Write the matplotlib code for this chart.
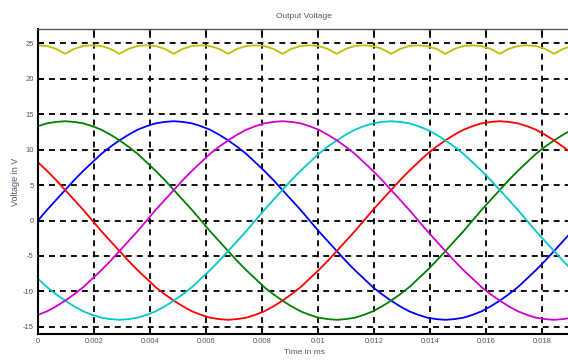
import numpy as np
import matplotlib
matplotlib.use("Agg")
import matplotlib.pyplot as plt

plt.rcParams['font.family'] = ['Liberation Sans', 'DejaVu Sans']
plt.rcParams['lines.scale_dashes'] = False

# Five phase voltages (V), sampled every 6 electrical degrees over one cycle
blue = [0.0, 1.5, 2.9, 4.3, 5.7, 7.0, 8.2, 9.4, 10.4, 11.3, 12.1, 12.8, 13.3, 13.7, 13.9,
        14.0, 13.9, 13.7, 13.3, 12.8, 12.1, 11.3, 10.4, 9.4, 8.2, 7.0, 5.7, 4.3, 2.9, 1.5,
        0.0, -1.5, -2.9, -4.3, -5.7, -7.0, -8.2, -9.4, -10.4, -11.3, -12.1, -12.8, -13.3, -13.7, -13.9,
        -14.0, -13.9, -13.7, -13.3, -12.8, -12.1, -11.3, -10.4, -9.4, -8.2, -7.0, -5.7, -4.3, -2.9, -1.5]
green = [13.3, 13.7, 13.9, 14.0, 13.9, 13.7, 13.3, 12.8, 12.1, 11.3, 10.4, 9.4, 8.2, 7.0, 5.7,
         4.3, 2.9, 1.5, 0.0, -1.5, -2.9, -4.3, -5.7, -7.0, -8.2, -9.4, -10.4, -11.3, -12.1, -12.8,
         -13.3, -13.7, -13.9, -14.0, -13.9, -13.7, -13.3, -12.8, -12.1, -11.3, -10.4, -9.4, -8.2, -7.0, -5.7,
         -4.3, -2.9, -1.5, 0.0, 1.5, 2.9, 4.3, 5.7, 7.0, 8.2, 9.4, 10.4, 11.3, 12.1, 12.8]
red = [8.2, 7.0, 5.7, 4.3, 2.9, 1.5, 0.0, -1.5, -2.9, -4.3, -5.7, -7.0, -8.2, -9.4, -10.4,
       -11.3, -12.1, -12.8, -13.3, -13.7, -13.9, -14.0, -13.9, -13.7, -13.3, -12.8, -12.1, -11.3, -10.4, -9.4,
       -8.2, -7.0, -5.7, -4.3, -2.9, -1.5, 0.0, 1.5, 2.9, 4.3, 5.7, 7.0, 8.2, 9.4, 10.4,
       11.3, 12.1, 12.8, 13.3, 13.7, 13.9, 14.0, 13.9, 13.7, 13.3, 12.8, 12.1, 11.3, 10.4, 9.4]
cyan = [-8.2, -9.4, -10.4, -11.3, -12.1, -12.8, -13.3, -13.7, -13.9, -14.0, -13.9, -13.7, -13.3, -12.8, -12.1,
        -11.3, -10.4, -9.4, -8.2, -7.0, -5.7, -4.3, -2.9, -1.5, 0.0, 1.5, 2.9, 4.3, 5.7, 7.0,
        8.2, 9.4, 10.4, 11.3, 12.1, 12.8, 13.3, 13.7, 13.9, 14.0, 13.9, 13.7, 13.3, 12.8, 12.1,
        11.3, 10.4, 9.4, 8.2, 7.0, 5.7, 4.3, 2.9, 1.5, 0.0, -1.5, -2.9, -4.3, -5.7, -7.0]
magenta = [-13.3, -12.8, -12.1, -11.3, -10.4, -9.4, -8.2, -7.0, -5.7, -4.3, -2.9, -1.5, 0.0, 1.5, 2.9,
           4.3, 5.7, 7.0, 8.2, 9.4, 10.4, 11.3, 12.1, 12.8, 13.3, 13.7, 13.9, 14.0, 13.9, 13.7,
           13.3, 12.8, 12.1, 11.3, 10.4, 9.4, 8.2, 7.0, 5.7, 4.3, 2.9, 1.5, 0.0, -1.5, -2.9,
           -4.3, -5.7, -7.0, -8.2, -9.4, -10.4, -11.3, -12.1, -12.8, -13.3, -13.7, -13.9, -14.0, -13.9, -13.7]
# Rectified output voltage (V)
output = [24.7, 24.6, 24.2, 23.5, 24.2, 24.6, 24.7, 24.6, 24.2, 23.5, 24.2, 24.6,
          24.7, 24.6, 24.2, 23.5, 24.2, 24.6, 24.7, 24.6, 24.2, 23.5, 24.2, 24.6,
          24.7, 24.6, 24.2, 23.5, 24.2, 24.6, 24.7, 24.6, 24.2, 23.5, 24.2, 24.6,
          24.7, 24.6, 24.2, 23.5, 24.2, 24.6, 24.7, 24.6, 24.2, 23.5, 24.2, 24.6,
          24.7, 24.6, 24.2, 23.5, 24.2, 24.6, 24.7, 24.6, 24.2, 23.5, 24.2, 24.6]

period = 0.0194
t = np.arange(len(blue)) * period / len(blue)

x_ticks = [0, 0.002, 0.004, 0.006, 0.008, 0.01, 0.012, 0.014, 0.016, 0.018]
x_labels = ['0', '0.002', '0.004', '0.006', '0.008', '0.01', '0.012', '0.014', '0.016', '0.018']
y_ticks = [-15, -10, -5, 0, 5, 10, 15, 20, 25]
y_labels = ['-15', '-10', '-5', '0', '5', '10', '15', '20', '25']

W, H = 568, 360
fig = plt.figure(figsize=(W / 100, H / 100), dpi=100)
ax = fig.add_axes([38 / W, (H - 334) / H, 532 / W, 305 / H])

lw = 1.3
ax.plot(t, output, color='#bfbf00', lw=lw)
ax.plot(t, blue, color='#0000ff', lw=lw)
ax.plot(t, green, color='#008000', lw=lw)
ax.plot(t, red, color='#ff0000', lw=lw)
ax.plot(t, cyan, color='#00c8c8', lw=lw)
ax.plot(t, magenta, color='#d000d0', lw=lw)

ax.set_xlim(0, 0.019)
ax.set_ylim(-16, 27)
ax.set_xticks(x_ticks)
ax.set_xticklabels(x_labels)
ax.set_yticks(y_ticks)
ax.set_yticklabels(y_labels)

ax.grid(True, color='black', linestyle=(0, (4.3, 3.6)), linewidth=1.3)
ax.set_axisbelow(True)

txt_color = '#55556a'
ax.tick_params(axis='both', direction='in', length=4, width=1.2, color='black',
               labelsize=5.5, labelcolor=txt_color, pad=3)
ax.tick_params(axis='x', top=True)

for side in ('left', 'bottom'):
    ax.spines[side].set_linewidth(1.5)
    ax.spines[side].set_color('black')
ax.spines['top'].set_linewidth(1.0)
ax.spines['top'].set_color('#555555')
ax.spines['right'].set_visible(False)

ax.set_title('Output Voltage', fontsize=6, color=txt_color, pad=8)
ax.set_xlabel('Time in ms', fontsize=6, color=txt_color, labelpad=3)
ax.set_ylabel('Voltage in V', fontsize=6.5, color=txt_color, labelpad=2)

fig.savefig('out.png', dpi=100)
